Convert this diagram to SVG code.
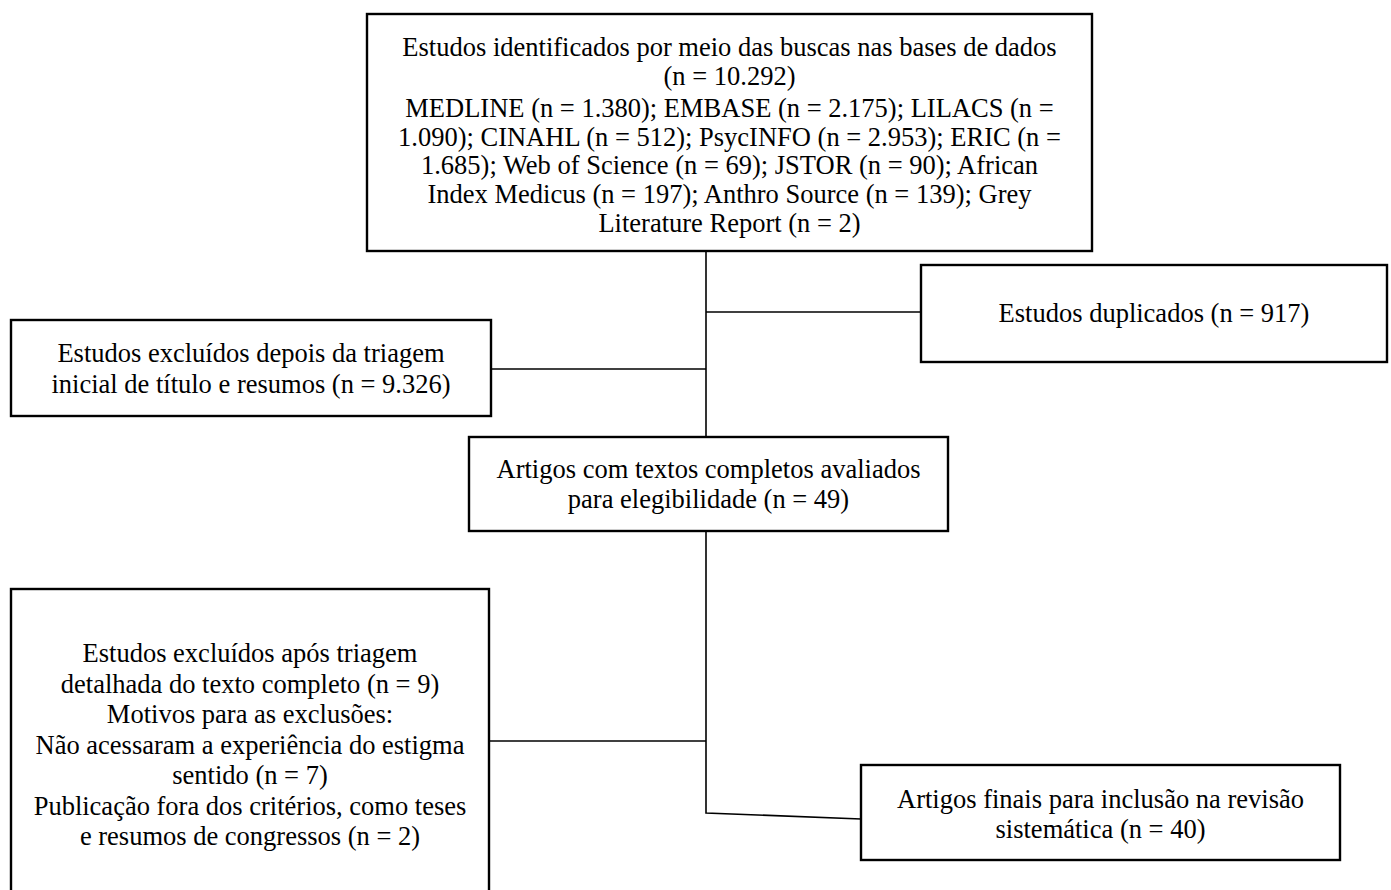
<svg xmlns="http://www.w3.org/2000/svg" width="1391" height="890" viewBox="0 0 1391 890">
<style>
.box{fill:#fff;stroke:#000;stroke-width:2.4}
.t{font-family:"Liberation Serif","Times New Roman",serif;font-size:26.5px;fill:#000;text-anchor:middle}
.c{fill:none;stroke:#000;stroke-width:1.6}
</style>
<rect width="1391" height="890" fill="#fff"/>
<g id="connectors">
<path class="c" d="M706 251V437"/>
<path class="c" d="M706 312H921"/>
<path class="c" d="M491 369H706"/>
<path class="c" d="M706 531V813L861 819"/>
<path class="c" d="M489 741H706"/>
</g>
<g id="n1">
<rect class="box" x="367" y="14" width="725" height="237"/>
<text class="t" x="729.5" y="56">Estudos identificados por meio das buscas nas bases de dados</text>
<text class="t" x="729.5" y="84.5">(n = 10.292)</text>
<text class="t" x="729.5" y="117">MEDLINE (n = 1.380); EMBASE (n = 2.175); LILACS (n =</text>
<text class="t" x="729.5" y="145.5">1.090); CINAHL (n = 512); PsycINFO (n = 2.953); ERIC (n =</text>
<text class="t" x="729.5" y="174">1.685); Web of Science (n = 69); JSTOR (n = 90); African</text>
<text class="t" x="729.5" y="203">Index Medicus (n = 197); Anthro Source (n = 139); Grey</text>
<text class="t" x="729.5" y="232">Literature Report (n = 2)</text>
</g>
<g id="n2">
<rect class="box" x="921" y="265" width="466" height="97"/>
<text class="t" x="1154" y="322">Estudos duplicados (n = 917)</text>
</g>
<g id="n3">
<rect class="box" x="11" y="320" width="480" height="96"/>
<text class="t" x="251" y="361.5">Estudos excluídos depois da triagem</text>
<text class="t" x="251" y="392.5">inicial de título e resumos (n = 9.326)</text>
</g>
<g id="n4">
<rect class="box" x="469" y="437" width="479" height="94"/>
<text class="t" x="708.5" y="478">Artigos com textos completos avaliados</text>
<text class="t" x="708.5" y="508">para elegibilidade (n = 49)</text>
</g>
<g id="n5">
<rect class="box" x="11" y="589" width="478" height="320"/>
<text class="t" x="250" y="662">Estudos excluídos após triagem</text>
<text class="t" x="250" y="692.5">detalhada do texto completo (n = 9)</text>
<text class="t" x="250" y="723">Motivos para as exclusões:</text>
<text class="t" x="250" y="753.5">Não acessaram a experiência do estigma</text>
<text class="t" x="250" y="784">sentido (n = 7)</text>
<text class="t" x="250" y="814.5">Publicação fora dos critérios, como teses</text>
<text class="t" x="250" y="845">e resumos de congressos (n = 2)</text>
</g>
<g id="n6">
<rect class="box" x="861" y="765" width="479" height="95"/>
<text class="t" x="1100.5" y="808">Artigos finais para inclusão na revisão</text>
<text class="t" x="1100.5" y="838">sistemática (n = 40)</text>
</g>
</svg>
